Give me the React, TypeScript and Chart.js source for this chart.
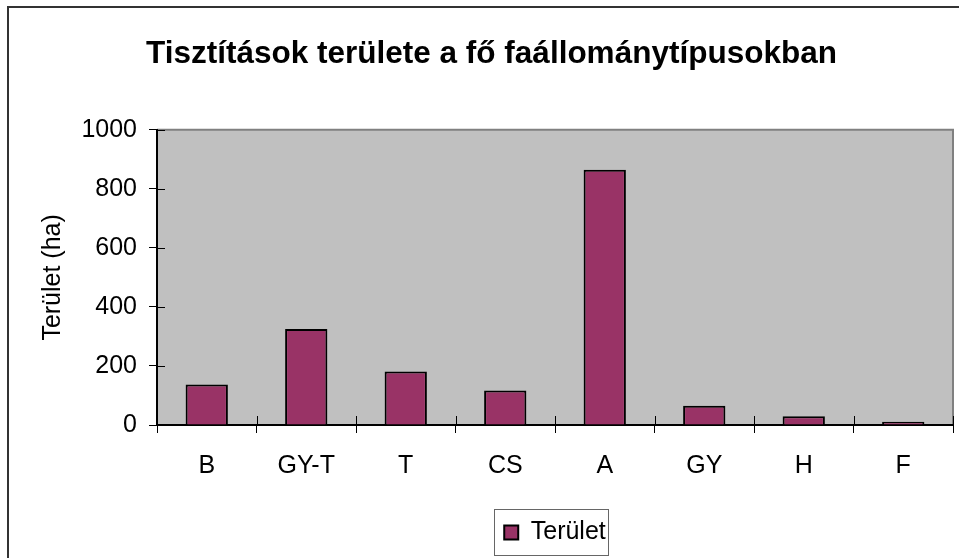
import React, { useEffect, useRef } from "react";
import { Chart, registerables } from "chart.js";

Chart.register(...registerables);

const categories = ["B", "GY-T", "T", "CS", "A", "GY", "H", "F"];
const areaValues = [137, 325, 181, 117, 865, 65, 30, 11];
const seriesLabel = "Terület";
const chartTitle = "Tisztítások területe a fő faállománytípusokban";
const yAxisTitle = "Terület (ha)";
const yMin = 0;
const yMax = 1000;
const yStep = 200;

const FONT = "Arial, 'Liberation Sans', Helvetica, sans-serif";
const BAR_FILL = "#993366";
const PLOT_BG = "#C0C0C0";

const plotBackground = {
  id: "plotBackground",
  beforeDraw(chart: any) {
    const { ctx, chartArea } = chart;
    const { left, top, right, bottom } = chartArea;
    ctx.save();
    ctx.fillStyle = PLOT_BG;
    ctx.fillRect(left, top, right - left, bottom - top);
    ctx.strokeStyle = "#808080";
    ctx.lineWidth = 2;
    ctx.beginPath();
    ctx.moveTo(left, top);
    ctx.lineTo(right, top);
    ctx.lineTo(right, bottom);
    ctx.stroke();
    ctx.restore();
  },
};

const crossTicks = {
  id: "crossTicks",
  afterDraw(chart: any) {
    const { ctx, chartArea, scales } = chart;
    const x = scales.x;
    const y = scales.y;
    ctx.save();
    ctx.strokeStyle = "#000";
    ctx.lineWidth = 1;
    ctx.beginPath();
    for (let i = 0; i < y.ticks.length; i++) {
      const py = Math.round(y.getPixelForTick(i)) + 0.5;
      ctx.moveTo(chartArea.left, py);
      ctx.lineTo(chartArea.left + 8, py);
    }
    for (let i = 0; i <= categories.length; i++) {
      const px = Math.round(x.getPixelForValue(i - 0.5)) + 0.5;
      ctx.moveTo(px, chartArea.bottom);
      ctx.lineTo(px, chartArea.bottom - 9);
    }
    ctx.stroke();

    // legend frame
    const lg = chart.legend;
    if (lg && lg.legendHitBoxes && lg.legendHitBoxes.length) {
      const hb = lg.legendHitBoxes[0];
      ctx.strokeStyle = "#666";
      ctx.lineWidth = 1;
      ctx.strokeRect(
        Math.round(hb.left - 10) + 0.5,
        Math.round(hb.top - 11) + 0.5,
        Math.round(hb.width + 12),
        Math.round(hb.height + 21)
      );
    }
    ctx.restore();
  },
};

export default function App() {
  const canvasRef = useRef<HTMLCanvasElement | null>(null);

  useEffect(() => {
    const canvas = canvasRef.current;
    if (!canvas) return;
    Chart.defaults.font.family = FONT;
    Chart.defaults.color = "#000";

    const chart = new Chart(canvas, {
      type: "bar",
      data: {
        labels: categories,
        datasets: [
          {
            label: seriesLabel,
            data: areaValues,
            backgroundColor: BAR_FILL,
            borderColor: "#000",
            borderWidth: 2,
            barPercentage: 0.425,
            categoryPercentage: 1,
          },
        ],
      },
      options: {
        responsive: false,
        animation: false,
        devicePixelRatio: 1,
        layout: { padding: { left: 30, right: 6, top: 0, bottom: 3 } },
        plugins: {
          title: {
            display: true,
            text: chartTitle,
            color: "#000",
            font: { size: 31.5, weight: "bold", family: FONT },
            padding: { top: 35, bottom: 57 },
          },
          legend: {
            display: true,
            position: "bottom",
            fullSize: false,
            labels: {
              boxWidth: 14,
              boxHeight: 14,
              padding: 14,
              color: "#000",
              font: { size: 25, family: FONT },
            },
          },
          tooltip: { enabled: false },
        },
        scales: {
          x: {
            type: "category",
            grid: {
              display: true,
              drawOnChartArea: false,
              drawTicks: true,
              tickLength: 8,
              color: "#000",
              offset: true,
            },
            border: { display: true, color: "#000", width: 2 },
            ticks: {
              color: "#000",
              font: { size: 25, family: FONT },
              padding: 18,
              maxRotation: 0,
              autoSkip: false,
            },
            afterFit: (s: any) => {
              s.height = 81;
            },
          },
          y: {
            min: yMin,
            max: yMax,
            grid: {
              display: true,
              drawOnChartArea: false,
              drawTicks: true,
              tickLength: 8,
              color: "#000",
            },
            border: { display: true, color: "#000", width: 2 },
            ticks: {
              stepSize: yStep,
              color: "#000",
              font: { size: 25, family: FONT },
              padding: 12,
              callback: (v: any) => String(v),
            },
            title: {
              display: true,
              text: yAxisTitle,
              color: "#000",
              font: { size: 25, family: FONT },
              padding: { top: 8, bottom: 0 },
            },
            afterFit: (s: any) => {
              s.width = 127;
            },
          },
        },
      },
      plugins: [plotBackground, crossTicks],
    });

    return () => chart.destroy();
  }, []);

  return (
    <div
      style={{
        position: "fixed",
        left: 0,
        top: 0,
        width: 959,
        height: 558,
        overflow: "hidden",
        background: "#fff",
      }}
    >
      <div
        style={{
          position: "absolute",
          left: 7,
          top: 6,
          width: 1000,
          height: 1000,
          borderLeft: "2px solid #333",
          borderTop: "2px solid #333",
        }}
      />
      <canvas
        ref={canvasRef}
        width={959}
        height={558}
        style={{ position: "absolute", left: 0, top: 0, width: 959, height: 558 }}
      />
    </div>
  );
}
